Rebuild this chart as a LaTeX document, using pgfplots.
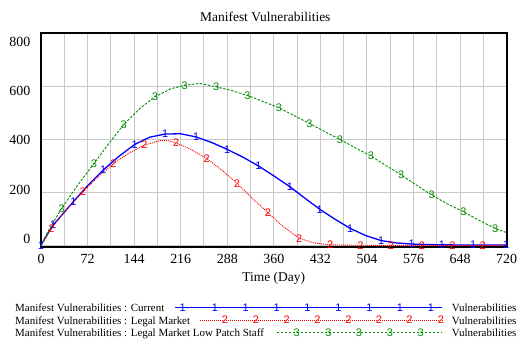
\documentclass[border=0pt]{standalone}
\usepackage{fontspec}
\setmainfont{Liberation Serif}
\newfontfamily\markfont{Liberation Sans}
\usepackage{pgfplots}
\pgfplotsset{compat=1.18}
\definecolor{vblue}{RGB}{0,0,255}
\definecolor{vred}{RGB}{255,0,0}
\definecolor{vgreen}{RGB}{0,140,0}
\definecolor{vgrid}{RGB}{200,200,200}
\pgfplotsset{
  mk/.style={only marks, mark=text, text mark={#1}, text mark as node=true},
}
\newcommand{\mkfont}{\markfont\fontsize{11}{11}\selectfont}
\begin{document}
\begin{tikzpicture}
\useasboundingbox (0,0) rectangle (518bp,343bp);
\begin{axis}[
  at={(41bp,96.3bp)}, anchor=south west,
  scale only axis, width=465.7bp, height=213.4bp,
  xmin=0, xmax=720, ymin=-5, ymax=800,
  xtick={0,72,...,720}, minor xtick={36,108,...,684},
  ytick={0,200,...,800}, yticklabels={},
  grid=both, major grid style={vgrid, line width=1bp}, minor grid style={vgrid, line width=1bp},
  major tick length=0pt, minor tick length=0pt,
  axis line style={black, line width=1.8bp},
  tick label style={font=\fontsize{14}{14}\selectfont},
  /pgf/number format/assume math mode=true,
  xticklabel style={anchor=base, yshift=-17.3bp, inner sep=0pt},
  extra y ticks={25,209,398,583,766},
  extra y tick labels={0,200,400,600,800},
  extra y tick style={grid=none, yticklabel style={anchor=east, inner sep=0pt, xshift=-10.5bp}},
  clip=false,
]
% Current
\addplot[vblue, line width=1.3bp] coordinates {(0,0)(6,25)(12,50)(19,77)(36,125)(50,165)(72,225)(96,284)(120,335)(145,381)(168,408)(192,420)(216,421)(240,409)(264,388)(288,362)(312,333)(336,300)(360,262)(385,221)(408,178)(431,136)(455,98)(478,64)(502,37)(526,18)(550,9)(573,5)(600,3)(648,1.5)(720,1)};
\addplot[vblue, mk={1}, text mark style={font=\mkfont, text=vblue, inner sep=0pt}] coordinates {(0,0)(19,77)(50,165)(96,284)(145,381)(192,420)(240,409)(288,362)(336,300)(385,221)(431,136)(478,64)(526,18)(573,5)(620,2.5)(668,1.3)(719,1)};
% Legal Market
\addplot[vred, line width=0.9bp, dash pattern=on 1bp off 1bp] coordinates {(0,0)(6,24)(16,64)(40,138)(65,202)(88,258)(112,309)(136,348)(160,378)(185,396)(197,395)(209,386)(232,362)(256,328)(280,283)(303,234)(327,177)(351,123)(375,70)(399,27)(423,9)(447,2)(480,0.5)(540,0)(720,0)};
\addplot[vred, mk={2}, text mark style={font=\mkfont, text=vred, inner sep=0pt}] coordinates {(16,64)(65,202)(112,309)(160,378)(209,386)(256,328)(303,234)(351,123)(399,27)(447,2)(494,0.3)(541,0)(589,0)(636,0)(683,0)};
% Legal Market Low Patch Staff
\addplot[vgreen, line width=0.9bp, dash pattern=on 2.5bp off 1.5bp] coordinates {(0,0)(8,40)(16,75)(32,140)(56,225)(82,309)(105,385)(128,456)(152,515)(176,560)(200,590)(222,604)(245,611)(271,598)(295,584)(319,566)(343,543)(368,519)(391,490)(415,460)(438,430)(462,400)(486,368)(510,337)(533,302)(557,265)(580,228)(604,190)(628,157)(653,127)(677,95)(702,64)(720,48)};
\addplot[vgreen, mk={3}, text mark style={font=\mkfont, text=vgreen, inner sep=0pt}] coordinates {(32,140)(82,309)(128,456)(176,560)(222,604)(271,598)(319,566)(368,519)(415,460)(462,400)(510,337)(557,265)(604,190)(653,127)(702,64)};
\end{axis}
\begin{axis}[
  at={(0bp,0bp)}, anchor=south west,
  scale only axis, width=518bp, height=343bp,
  xmin=0, xmax=518, ymin=0, ymax=343, y dir=reverse,
  hide axis, clip=false,
]
\node[anchor=base, font=\fontsize{13.5}{13.5}\selectfont] at (axis cs:265.3,21.5) {Manifest Vulnerabilities};
\node[anchor=base, font=\fontsize{13.5}{13.5}\selectfont] at (axis cs:273.7,281.5) {Time (Day)};
\node[anchor=base west, inner sep=0pt, font=\fontsize{11}{11}\selectfont] at (axis cs:15,311.7) {Manifest Vulnerabilities : Current};
\node[anchor=base west, inner sep=0pt, font=\fontsize{11}{11}\selectfont] at (axis cs:15,324) {Manifest Vulnerabilities : Legal Market};
\node[anchor=base west, inner sep=0pt, font=\fontsize{11}{11}\selectfont] at (axis cs:15,336.3) {Manifest Vulnerabilities : Legal Market Low Patch Staff};
\node[anchor=base west, inner sep=0pt, font=\fontsize{11}{11}\selectfont] at (axis cs:451.7,311.7) {Vulnerabilities};
\node[anchor=base west, inner sep=0pt, font=\fontsize{11}{11}\selectfont] at (axis cs:451.7,324) {Vulnerabilities};
\node[anchor=base west, inner sep=0pt, font=\fontsize{11}{11}\selectfont] at (axis cs:451.7,336.3) {Vulnerabilities};
\addplot[vblue, line width=1.3bp] coordinates {(175,307.7)(441.7,307.7)};
\addplot[vblue, mk={1}, text mark style={font=\mkfont, text=vblue, inner sep=0pt}] coordinates {(182.7,307.7)(215,307.7)(245.7,307.7)(276.7,307.7)(307.3,307.7)(338.3,307.7)(369.3,307.7)(400,307.7)(431,307.7)};
\addplot[vred, line width=0.9bp, dash pattern=on 1bp off 1bp] coordinates {(200,320)(443.3,320)};
\addplot[vred, mk={2}, text mark style={font=\mkfont, text=vred, inner sep=0pt}] coordinates {(225,320)(256,320)(286.7,320)(317.3,320)(348.3,320)(379,320)(409.3,320)(441,320)};
\addplot[vgreen, line width=0.9bp, dash pattern=on 2.5bp off 1.5bp] coordinates {(276.7,332.3)(441.7,332.3)};
\addplot[vgreen, mk={3}, text mark style={font=\mkfont, text=vgreen, inner sep=0pt}] coordinates {(296.7,332.3)(328.3,332.3)(359,332.3)(390,332.3)(420.7,332.3)};
\end{axis}
\end{tikzpicture}
\end{document}
